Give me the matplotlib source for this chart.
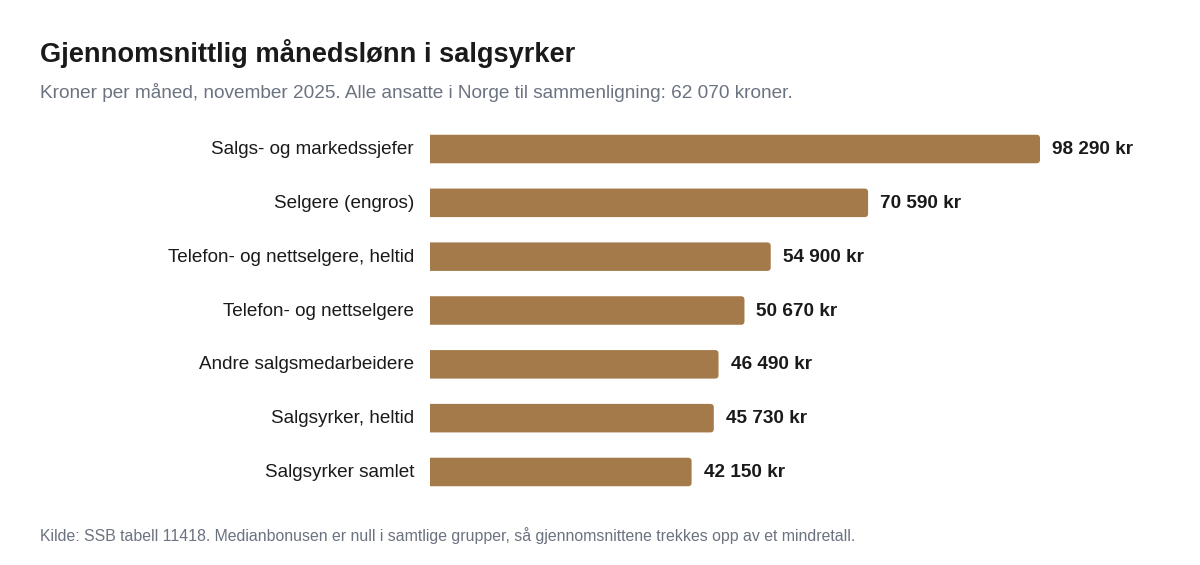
import matplotlib
matplotlib.use("Agg")
from matplotlib import pyplot as plt
from matplotlib.path import Path
from matplotlib.patches import PathPatch

categories = ["Salgs- og markedssjefer", "Selgere (engros)", "Telefon- og nettselgere, heltid",
              "Telefon- og nettselgere", "Andre salgsmedarbeidere", "Salgsyrker, heltid",
              "Salgsyrker samlet"]
values = [98290, 70590, 54900, 50670, 46490, 45730, 42150]

title = "Gjennomsnittlig månedslønn i salgsyrker"
subtitle = "Kroner per måned, november 2025. Alle ansatte i Norge til sammenligning: 62 070 kroner."
source = "Kilde: SSB tabell 11418. Medianbonusen er null i samtlige grupper, så gjennomsnittene trekkes opp av et mindretall."

bar_color = "#a47a4a"
plt.rcParams['font.family'] = ['Liberation Sans', 'DejaVu Sans']


def right_rounded_bar(v, yc, h, rx, ry):
    # bar path: square at zero, rounded corners at the value end
    y0, y1 = yc - h / 2, yc + h / 2
    verts = [(0, y0), (v - rx, y0), (v, y0), (v, y0 + ry), (v, y1 - ry),
             (v, y1), (v - rx, y1), (0, y1), (0, y0)]
    codes = [Path.MOVETO, Path.LINETO, Path.CURVE3, Path.CURVE3, Path.LINETO,
             Path.CURVE3, Path.CURVE3, Path.LINETO, Path.CLOSEPOLY]
    return Path(verts, codes)


W, H = 1200, 565
fig = plt.figure(figsize=(W / 100, H / 100), dpi=100)
fig.patch.set_facecolor("white")

# axes placed in pixel terms: zero at x=430, bar centres 149..472
ax_l, ax_r = 430, 1160
ax_t, ax_b = 122.1, 498.9
ax = fig.add_axes([ax_l / W, 1 - ax_b / H, (ax_r - ax_l) / W, (ax_b - ax_t) / H])

xmax = values[0] * (ax_r - ax_l) / 610.0
ax.set_xlim(0, xmax)
ax.set_ylim(len(values) - 0.5, -0.5)
ax.axis("off")

px_x = xmax / (ax_r - ax_l)          # data units per pixel, x
px_y = len(values) / (ax_b - ax_t)   # data units per pixel, y
bh = 0.53

for i, v in enumerate(values):
    ax.add_patch(PathPatch(right_rounded_bar(v, i, bh, 3.5 * px_x, 3.5 * px_y),
                           facecolor=bar_color, edgecolor="none"))
    label = f"{v:,}".replace(",", " ") + " kr"
    ax.text(v + 12 * px_x, i + 0.5 * px_y, label, ha="left", va="center", fontsize=13.7,
            fontweight="bold", color="#1a1a1a")
    ax.text(-16 * px_x, i + 0.5 * px_y, categories[i], ha="right", va="center", fontsize=13.6,
            color="#1a1a1a")

fig.text(40 / W, 1 - 53 / H, title, ha="left", va="center", fontsize=19.6,
         fontweight="bold", color="#1a1a1a")
fig.text(40 / W, 1 - 93 / H, subtitle, ha="left", va="center", fontsize=13.7,
         color="#6b7280")
fig.text(40 / W, 1 - 536 / H, source, ha="left", va="center", fontsize=11.4,
         color="#6b7280")

fig.savefig("out.png", dpi=100, facecolor="white")
